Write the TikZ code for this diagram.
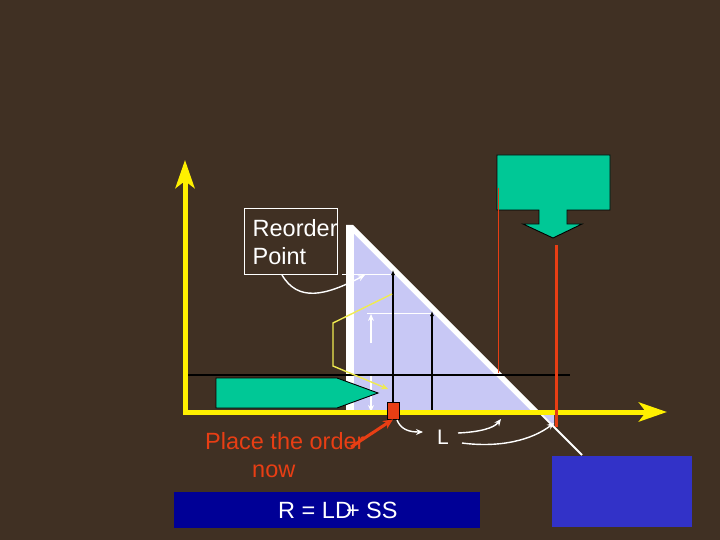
\documentclass[tikz,border=0pt]{standalone}
\usepackage{fontspec}
\setmainfont{Liberation Sans}
\usetikzlibrary{arrows.meta}
\definecolor{wood}{RGB}{64,48,35}
\definecolor{lav}{RGB}{200,200,245}
\definecolor{grn}{RGB}{0,200,150}
\definecolor{redo}{RGB}{232,62,20}
\definecolor{dblue}{RGB}{0,0,150}
\definecolor{mblue}{RGB}{50,50,200}
\definecolor{yel}{RGB}{255,240,0}
\definecolor{lyel}{RGB}{240,235,80}
\tikzset{
  axis/.style={draw=yel,line width=5pt,-{Stealth[length=28pt,width=19pt,inset=7pt]}},
  blk/.style={draw=black,line width=2pt,-{Latex[length=5pt,width=4pt]}},
  wline/.style={draw=white,line width=1pt},
  warr/.style={draw=white,line width=1.4pt,-{Stealth[length=7pt,width=6pt]}},
  lbl/.style={inner sep=0pt,font=\fontsize{23.5}{28}\selectfont},
  shapeout/.style={draw=black,line width=0.9pt}
}
\begin{document}
\begin{tikzpicture}[x=1pt,y=-1pt]
\useasboundingbox (0,0) rectangle (720,540);
\fill[wood] (0,0) rectangle (720,540);
% triangle
\fill[white] (346,225) -- (353,225) -- (540,412) -- (346,412) -- cycle;
\fill[lav] (354,234) -- (354,412) -- (532,412) -- cycle;
\fill[lav] (541,413) -- (554,413) -- (554,426) -- cycle;
\draw[white,line width=1.8pt] (539,412) -- (582,455);
% black horizontal line
\coordinate (hl1) at (187,375); \coordinate (hl2) at (570,375);
\draw[black,line width=1.1pt] (hl1) -- (hl2);
% white guide lines and arrows
\coordinate (w1a) at (342,274); \coordinate (w1b) at (393,274);
\coordinate (w2a) at (367,313); \coordinate (w2b) at (432,313);
\draw[wline] (w1a) -- (w1b);
\draw[wline] (w2a) -- (w2b);
\coordinate (ua) at (371,343); \coordinate (ub) at (371,314);
\coordinate (da) at (371,376); \coordinate (db) at (371,412);
\draw[warr] (ua) -- (ub);
\draw[warr] (da) -- (db);
% black arrows
\coordinate (b1a) at (393,411); \coordinate (b1b) at (393,270);
\coordinate (b2a) at (432,411); \coordinate (b2b) at (432,311);
\draw[blk] (b1a) -- (b1b);
\draw[blk] (b2a) -- (b2b);
% green arrow
\draw[shapeout,fill=grn] (216,378) -- (337,378) -- (378,393) -- (337,408) -- (216,408) -- cycle;
% yellow polyline
\coordinate (y1) at (392,294); \coordinate (y2) at (333,323);
\coordinate (y3) at (333,366); \coordinate (y4) at (388,389);
\draw[lyel,line width=1.4pt,-{Stealth[length=7pt,width=6pt]}] (y1) -- (y2) -- (y3) -- (y4);
% axes
\coordinate (o) at (185,412);
\coordinate (ytop) at (185,160);
\coordinate (xend) at (667,412);
\draw[axis] (185,414) -- (ytop);
\draw[axis] (183,412) -- (xend);
% top green callout
\draw[shapeout,fill=grn] (497,155) -- (610,155) -- (610,210) -- (567,210) -- (567,224) -- (582,224) -- (553,238) -- (523,224) -- (539,224) -- (539,210) -- (497,210) -- cycle;
% red vertical lines
\coordinate (r1a) at (498,188); \coordinate (r1b) at (498,373);
\coordinate (r2a) at (556,245); \coordinate (r2b) at (556,427);
\draw[redo,line width=1pt] (r1a) -- (r1b);
\draw[redo,line width=3pt] (r2a) -- (r2b);
% red box
\node[draw=black,line width=0.8pt,fill=redo,minimum width=12pt,minimum height=17pt,inner sep=0pt] (rb) at (393,410.5) {};
% reorder point box
\draw[white,line width=0.9pt] (244,208) rectangle (337,274);
\node[lbl,white,anchor=base west] (rp1) at (252.5,236.5) {Reorder};
\node[lbl,white,anchor=base west] (rp2) at (252.5,264.5) {Point};
\coordinate (c1) at (282,275); \coordinate (c1e) at (365,275);
\draw[warr] (c1) .. controls (298,302) and (325,296) .. (c1e);
% place the order
\node[lbl,redo,anchor=base west] (po1) at (205,449) {Place the order};
\node[lbl,redo,anchor=base west] (po2) at (252,477) {now};
\coordinate (ra) at (351,447);
\draw[redo,line width=3pt,-{Stealth[length=10pt,width=9pt]}] (ra) -- (rb.south);
% L and arrows
\node[lbl,white,anchor=base west,font=\fontsize{21}{25}\selectfont] (L) at (437,444.5) {L};
\coordinate (la) at (397,420); \coordinate (lb) at (423,432);
\draw[warr] (la) .. controls (401,430) and (410,432) .. (lb);
\coordinate (lc) at (458,433); \coordinate (ld) at (501,419);
\draw[warr] (lc) .. controls (480,432) and (494,428) .. (ld);
\coordinate (le) at (462,443); \coordinate (lf) at (554,423);
\draw[warr] (le) .. controls (500,448) and (532,440) .. (lf);
% blue boxes
\fill[dblue] (174,492) rectangle (480,528);
\node[lbl,white,anchor=base west] (form) at (278,518) {R = LD\kern-6pt+ SS};
\fill[mblue] (552,456) rectangle (692,527);
\end{tikzpicture}
\end{document}
